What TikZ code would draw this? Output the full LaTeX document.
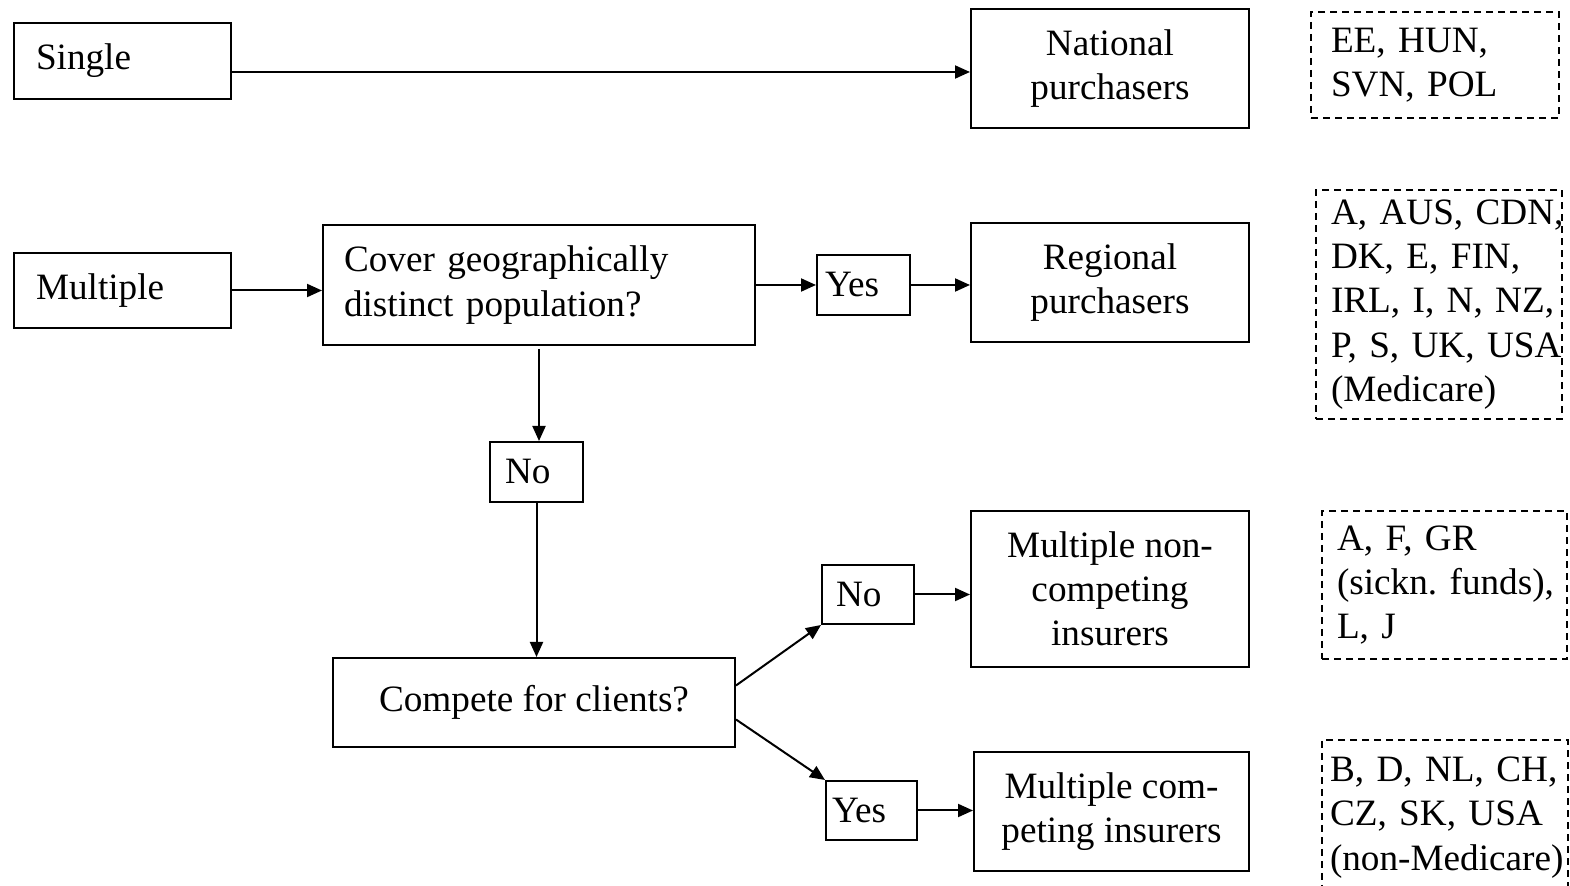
\documentclass[tikz,border=0pt]{standalone}
\usepackage{fontspec}
\setmainfont{Liberation Serif}
\usetikzlibrary{arrows.meta}

\begin{document}
\begin{tikzpicture}[
  box/.style={draw,line width=1pt,inner sep=0pt,align=center},
  lbox/.style={draw,line width=1pt,inner ysep=0pt,align=left},
  list/.style={draw,line width=0.6pt,dash pattern=on 3.5pt off 2.5pt,inner ysep=0pt,align=left},
  arr/.style={-{Triangle[length=7.5pt,width=6.5pt]},line width=1pt},
  every node/.style={font=\fontsize{18.6}{22.1}\selectfont\frenchspacing},
  x=0.5pt,y=-0.5pt
]
  \useasboundingbox (0,0) rectangle (1570,886);

  % left column
  \node[lbox,minimum width=108.5pt,minimum height=38pt,inner xsep=11pt,text width=86.5pt] (single) at (122.5,61) {Single};
  \node[lbox,minimum width=108.5pt,minimum height=37.5pt,inner xsep=11pt,text width=86.5pt] (multiple) at (122.5,290.5) {Multiple};

  % questions and answers
  \node[lbox,minimum width=216pt,minimum height=60pt,inner xsep=10.5pt,text width=195pt] (cover) at (539,285) {Cover geographically\\distinct population?};
  \node[lbox,minimum width=46.5pt,minimum height=30pt,inner xsep=4pt,text width=38.5pt] (yes1) at (863.5,285) {Yes};
  \node[lbox,minimum width=46.5pt,minimum height=30pt,inner xsep=7.5pt,text width=31.5pt] (no1) at (536.5,472) {No};
  \node[box,minimum width=201pt,minimum height=44.5pt] (compete) at (534,702.5) {Compete for clients?};
  \node[lbox,minimum width=46pt,minimum height=29.5pt,inner xsep=7pt,text width=32pt] (no2) at (868,594.5) {No};
  \node[lbox,minimum width=45.5pt,minimum height=29.5pt,inner xsep=3pt,text width=39.5pt] (yes2) at (871.5,810.5) {Yes};

  % purchaser types
  \node[box,minimum width=139pt,minimum height=59.5pt] (national) at (1110,68.5) {National\\purchasers};
  \node[box,minimum width=139pt,minimum height=59.5pt] (regional) at (1110,282.5) {Regional\\purchasers};
  \node[box,minimum width=139pt,minimum height=78pt] (noncomp) at (1110,589) {Multiple non-\\competing\\insurers};
  \node[box,minimum width=137.5pt,minimum height=59.5pt] (comp) at (1111.5,811.5) {Multiple com-\\peting insurers};

  % countries
  \node[list,minimum width=124pt,minimum height=53pt,inner xsep=10pt,text width=104pt] (natlist) at (1435,65) {EE, HUN,\\SVN, POL};
  \node[list,minimum width=123pt,minimum height=114.5pt,inner xsep=7.5pt,text width=108pt] (reglist) at (1439,304.5) {\mbox{A, AUS, CDN,}\\\mbox{DK, E, FIN,}\\\mbox{IRL, I, N, NZ,}\\\mbox{P, S, UK, USA}\\(Medicare)};
  \node[list,minimum width=122.5pt,minimum height=74pt,inner xsep=7.5pt,text width=107.5pt] (noncomplist) at (1444.5,585) {A, F, GR\\\mbox{(sickn. funds),}\\L, J};
  \node[list,minimum width=123pt,minimum height=77.5pt,inner xsep=4pt,text width=115pt] (complist) at (1445,817.5) {\mbox{B, D, NL, CH,}\\\mbox{CZ, SK, USA}\\\mbox{(non-Medicare)}};

  \draw[arr,transform canvas={yshift=-1.75pt}] (single.east |- national.west) -- (national.west);
  \draw[arr] (multiple.east) -- (multiple.east -| cover.west);
  \draw[arr] (cover.east |- yes1.west) -- (yes1.west);
  \draw[arr] (yes1.east) -- (yes1.east -| regional.west);
  \draw[arr] ([yshift=-1.5pt]cover.south) -- (cover.south |- no1.north);
  \draw[arr] (no1.south) -- (no1.south |- compete.north);
  \draw[arr] ([yshift=8.5pt]compete.east) -- (no2.south west);
  \draw[arr] ([yshift=-8.5pt]compete.east) -- (yes2.north west);
  \draw[arr] (no2.east) -- (no2.east -| noncomp.west);
  \draw[arr] (yes2.east) -- (yes2.east -| comp.west);
\end{tikzpicture}
\end{document}
